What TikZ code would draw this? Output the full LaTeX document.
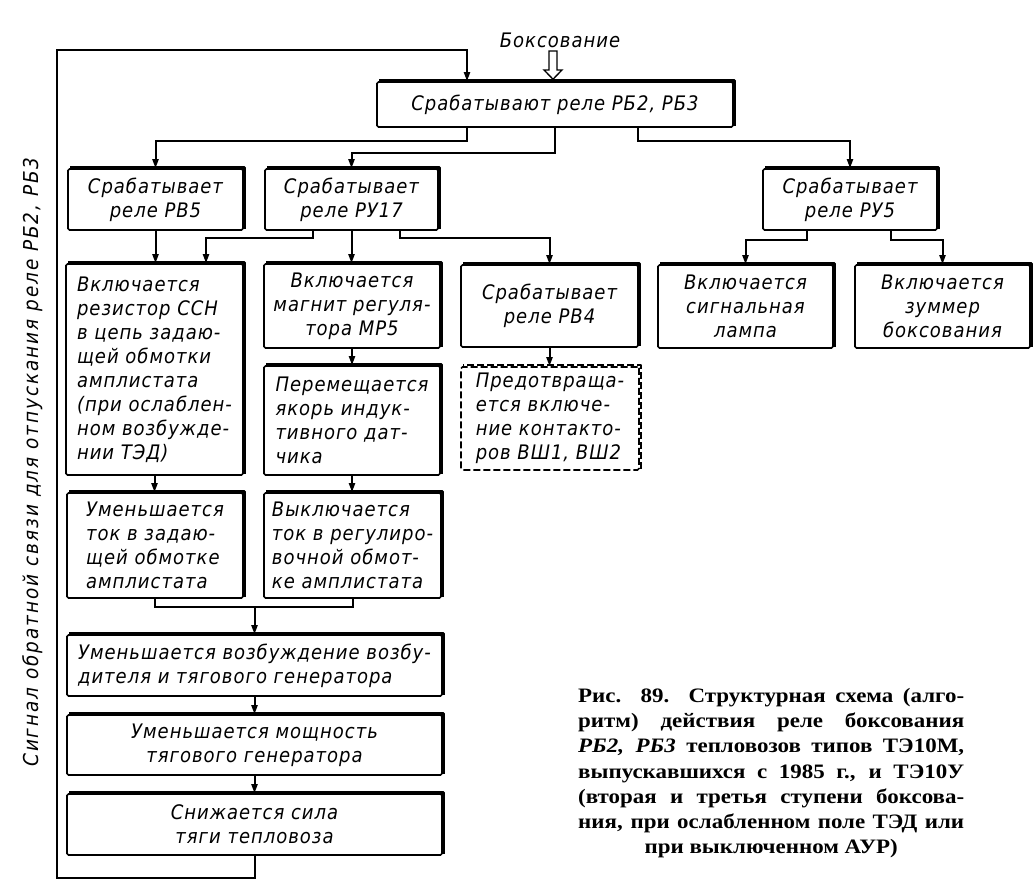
\documentclass[tikz,border=0pt]{standalone}
\usepackage{fontspec}
\setmainfont{Liberation Serif}
\newfontfamily\df[LetterSpace=5.0]{DejaVu Sans Condensed Oblique}
\newfontfamily\dfw[LetterSpace=9.5]{DejaVu Sans Condensed Oblique}
\newfontfamily\capf[FakeStretch=1.12]{Liberation Serif}
\usetikzlibrary{arrows.meta,calc}
\newcommand\boxfont{\df\fontsize{20}{24}\selectfont}
\newcommand\capfont{\capf\fontsize{20.5}{25.2}\selectfont\bfseries}
\tikzset{
  box/.style={draw, fill=white, line width=1.6pt, rounded corners=1.5pt, inner sep=2pt,
    align=center, font=\boxfont},
  dbox/.style={draw, fill=white, line width=1.6pt, dashed, dash pattern=on 7pt off 3pt,
    rounded corners=1.5pt, inner sep=2pt, align=center, font=\boxfont},
  edge3d/.style={line width=3pt, line join=round},
  ln/.style={line width=2pt},
  arr/.style={line width=2pt, -{Triangle[length=9pt,width=6pt]}},
}
\begin{document}
\begin{tikzpicture}[x=1pt,y=-1pt]
\useasboundingbox (0,0) rectangle (1034,887);
% title
\node[font=\boxfont] (lab) at (560,40) {Боксование};
\node[box, minimum width=356, minimum height=45] (top) at (555,104.5) {Срабатывают реле РБ2, РБ3};
% row 1
\node[box, minimum width=175, minimum height=61] (rv5) at (155.5,199.5) {Срабатывает\\реле РВ5};
\node[box, minimum width=173, minimum height=61] (ru17) at (351.5,199.5) {Срабатывает\\реле РУ17};
\node[box, minimum width=174, minimum height=61] (ru5) at (850,199.5) {Срабатывает\\реле РУ5};
% row 2
\node[box, minimum width=177, minimum height=211, align=left] (rez) at (154.5,369.5) {Включается\\резистор ССН\\в цепь задаю-\\щей обмотки\\амплистата\\(при ослаблен-\\ном возбужде-\\нии ТЭД)};
\node[box, minimum width=176, minimum height=84] (magn) at (352,306) {Включается\\магнит регуля-\\тора МР5};
\node[box, minimum width=176, minimum height=109, align=left] (perem) at (352,420.5) {Перемещается\\якорь индук-\\тивного дат-\\чика};
\node[box, minimum width=177, minimum height=82] (rv4) at (549.5,306) {Срабатывает\\реле РВ4};
\node[dbox, minimum width=178, minimum height=103, align=left] (dash) at (550,418.5) {Предотвраща-\\ется включе-\\ние контакто-\\ров ВШ1, ВШ2};
\node[box, minimum width=175, minimum height=83] (lamp) at (745.5,306.5) {Включается\\сигнальная\\лампа};
\node[box, minimum width=175, minimum height=83] (zum) at (942.5,306.5) {Включается\\зуммер\\боксования};
% row 3
\node[box, minimum width=176, minimum height=105, align=left] (tok) at (155,545.5) {Уменьшается\\ток в задаю-\\щей обмотке\\амплистата};
\node[box, minimum width=177, minimum height=105, align=left] (vykl) at (352.5,545.5) {Выключается\\ток в регулиро-\\вочной обмот-\\ке амплистата};
% bottom chain
\node[box, minimum width=375, minimum height=61, align=left] (vozb) at (254.5,665.5) {Уменьшается возбуждение возбу-\\дителя и тягового генератора};
\node[box, minimum width=375, minimum height=60] (mosch) at (254.5,745) {Уменьшается мощность\\тягового генератора};
\node[box, minimum width=375, minimum height=61] (sil) at (254.5,824.5) {Снижается сила\\тяги тепловоза};
% thick top and right edges
\foreach \n in {top,rv5,ru17,ru5,rez,magn,perem,rv4,lamp,zum,tok,vykl,vozb,mosch,sil}
  \draw[edge3d] ($(\n.south east)+(1,-2)$) -- ($(\n.north east)+(1,-1)$) -- ($(\n.north west)+(3,-1)$);
\draw[edge3d, line width=2.4pt, dashed, dash pattern=on 7pt off 3pt] ($(dash.south east)+(1,-2)$) -- ($(dash.north east)+(1,-1)$) -- ($(dash.north west)+(3,-1)$);
% feedback label
\node[font=\dfw\fontsize{20.5}{24}\selectfont, rotate=90] (fbl) at (33,462) {Сигнал обратной связи для отпускания реле РБ2, РБ3};
% hollow input arrow
\coordinate (ha) at (553,51);
\draw[line width=1.3pt, fill=white] ($(ha)+(-4,0)$) -- ($(ha)+(4,0)$) -- ($(ha)+(4,19)$) -- ($(ha)+(9,19)$) -- ($(ha |- top.north)+(0,-2)$) -- ($(ha)+(-9,19)$) -- ($(ha)+(-4,19)$) -- cycle;
% connectors from top
\coordinate (jL) at (467,141);
\coordinate (jM) at (555,153);
\coordinate (jR) at (638,141);
\draw[arr] (top.south -| jL) -- (jL) -| (rv5.north);
\draw[arr] (top.south -| jM) -- (jM) -| (ru17.north);
\draw[arr] (top.south -| jR) -- (jR) -| (ru5.north);
% from rv5 / ru17
\draw[arr] (rv5.south) -- (rv5.south |- rez.north);
\coordinate (k1) at (313,238);
\coordinate (k1e) at (206,238);
\draw[arr] (ru17.south -| k1) -- (k1) -- (k1e) -- (k1e |- rez.north);
\draw[arr] (ru17.south) -- (ru17.south |- magn.north);
\coordinate (k2) at (400,238);
\draw[arr] (ru17.south -| k2) -- (k2) -| (rv4.north);
% from ru5
\coordinate (m1) at (807,240);
\coordinate (m2) at (891,240);
\draw[arr] (ru5.south -| m1) -- (m1) -| (lamp.north);
\draw[arr] (ru5.south -| m2) -- (m2) -| (zum.north);
% verticals
\draw[arr] (magn.south) -- (magn.south |- perem.north);
\draw[arr] (rv4.south) -- (rv4.south |- dash.north);
\draw[arr] (rez.south) -- (rez.south |- tok.north);
\draw[arr] (perem.south) -- (perem.south |- vykl.north);
% merge
\coordinate (n1) at (254.5,607);
\draw[ln] (tok.south) |- (n1) -| (vykl.south);
\draw[arr] (n1) -- (vozb.north);
\draw[arr] (vozb.south) -- (mosch.north);
\draw[arr] (mosch.south) -- (sil.north);
% feedback loop
\coordinate (f1) at (57,878);
\coordinate (f2) at (57,50);
\coordinate (f3) at (467,50);
\draw[arr] (sil.south) |- (f1) -- (f2) -- (f3) -- (f3 |- top.north);
% caption
\node[anchor=north west, text width=386, inner sep=0pt, align=justify, font=\capfont] (cap) at (578,688) {%
Рис. 89. Структурная схема (алго-\linebreak
ритм) действия реле боксования\linebreak
\textit{РБ2, РБ3} тепловозов типов ТЭ10М,\linebreak
выпускавшихся с 1985 г., и ТЭ10У\linebreak
(вторая и третья ступени боксова-\linebreak
ния, при ослабленном поле ТЭД или\parfillskip=0pt\par
{\centering при выключенном АУР)\par}};
\end{tikzpicture}
\end{document}
